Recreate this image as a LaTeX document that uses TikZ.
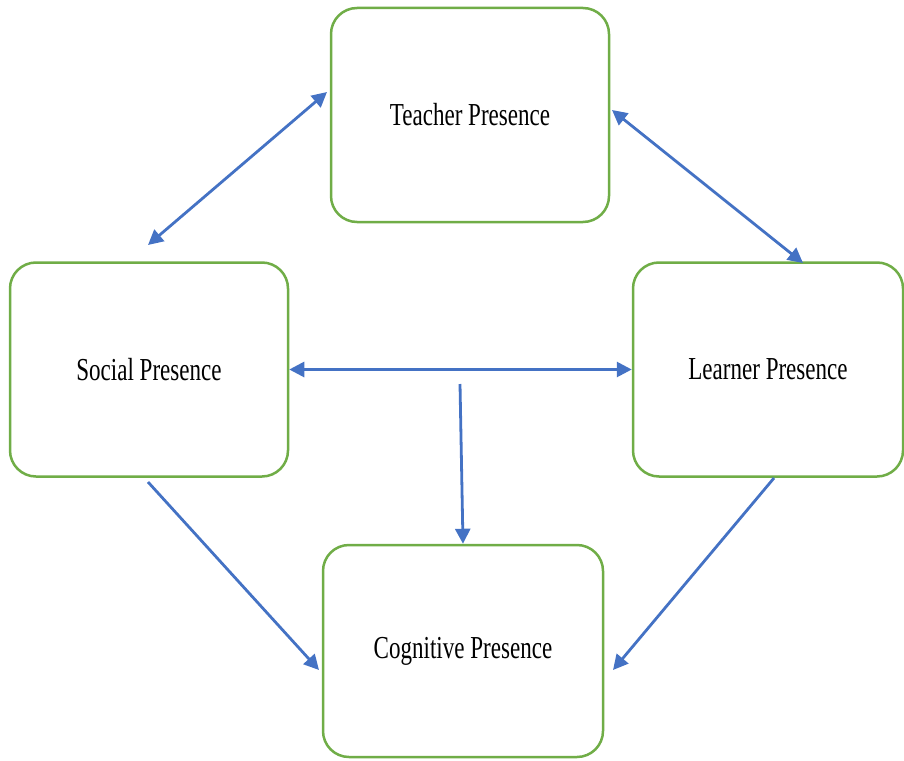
\documentclass[tikz,border=0pt]{standalone}
\usepackage{fontspec}
\newfontfamily\boxfont[FakeStretch=0.72]{Liberation Serif}
\usetikzlibrary{arrows.meta}
\definecolor{boxgreen}{HTML}{70AD47}
\definecolor{linkblue}{HTML}{4472C4}
\tikzset{
	presence/.style={draw=boxgreen, line width=2.5pt, rounded corners=26pt, fill=white,
		minimum width=278pt, minimum height=214pt, inner sep=0pt,
		font=\boxfont\fontsize{32pt}{34pt}\selectfont},
	link/.style={draw=linkblue, line width=2.8pt, -{Triangle[length=15pt,width=15pt]}},
	twoway/.style={link, {Triangle[length=15pt,width=15pt]}-{Triangle[length=15pt,width=15pt]}}
}

\begin{document}
\begin{tikzpicture}[x=1pt,y=-1pt]
		\useasboundingbox (0,0) rectangle (904,760);
		%boxes
		\node[presence] (teacher) at (470,115) {Teacher Presence};
		\node[presence] (social) at (149,369.5) {Social Presence};
		\node[presence, minimum width=270pt] (learner) at (768,369.5) {Learner Presence};
		\node[presence, minimum width=280pt, minimum height=212pt] (cognitive) at (463,651) {Cognitive Presence};
		%free ends
		\coordinate (tsTop) at (327,92);
		\coordinate (tsLow) at (148,245);
		\coordinate (tlTop) at (612,110);
		\coordinate (tlLow) at (803,263);
		\coordinate (midTop) at (460,384);
		\coordinate (scStart) at (148,482);
		\coordinate (scEnd) at (319,670);
		\coordinate (lcStart) at (774,478);
		\coordinate (lcEnd) at (613,670);
		%teacher links
		\draw[twoway] (tsTop) -- (tsLow);
		\draw[twoway] (tlTop) -- (tlLow);
		%social -- learner
		\draw[twoway] (social.east) -- (learner.west);
		%to cognitive
		\draw[link] (midTop) -- (cognitive.north);
		\draw[link] (scStart) -- (scEnd);
		\draw[link] (lcStart) -- (lcEnd);
	\end{tikzpicture}
\end{document}
